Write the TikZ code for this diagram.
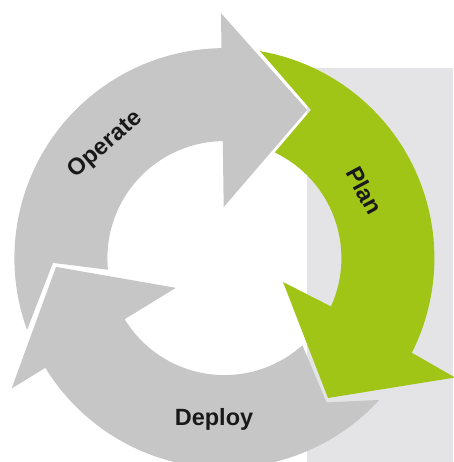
\documentclass[tikz,border=0pt]{standalone}
\usepackage{fontspec}
\setmainfont{Liberation Sans}
\usetikzlibrary{calc}
\definecolor{cyclegray}{HTML}{C6C6C6}
\definecolor{cyclegreen}{HTML}{A1C517}
\definecolor{panelgray}{HTML}{E4E4E6}
\begin{document}
\begin{tikzpicture}[x=1pt,y=1pt,
  arrowgray/.style={fill=cyclegray},
  arrowgreen/.style={fill=cyclegreen},
  lbl/.style={font=\bfseries\fontsize{23.5}{26}\selectfont, text=black!90, inner sep=0pt}]
\useasboundingbox (0,0) rectangle (453,462);
% light panel behind the right part of the cycle
\fill[panelgray] (307,0) rectangle (453,394);
\coordinate (C) at (224.4,203.9);
% Operate: from the left side over the top
\fill[arrowgray] ($(C)+(200:210)$) arc[start angle=200,end angle=90.8,radius=210pt]
  -- ($(C)+(90.8:245)$) -- ($(C)+(60.8:169.6)$) -- ($(C)+(90.8:51)$)
  -- ($(C)+(90.8:117)$) arc[start angle=90.8,end angle=185.7,radius=117pt]
  -- ($(C)+(181.6:171.5)$) -- cycle;
% Plan: down the right side
\fill[arrowgreen] ($(C)+(80.2:210)$) arc[start angle=80.2,end angle=-26.8,radius=210pt]
  -- (455,84.5) -- (328,64) -- (283,180)
  -- ($(C)+(-24.4:117)$) arc[start angle=-24.4,end angle=64.5,radius=117pt]
  -- ($(C)+(59.7:171.6)$) -- cycle;
% Deploy: along the bottom, back up to the left
\fill[arrowgray] ($(C)+(-42.5:210)$) arc[start angle=-42.5,end angle=-148.5,radius=210pt]
  -- ($(C)+(211.5:249.6)$) -- ($(C)+(183:168.6)$) -- ($(C)+(211.5:56.9)$)
  -- ($(C)+(211.5:117)$) arc[start angle=211.5,end angle=311.8,radius=117pt]
  -- ($(C)+(-54.7:176.8)$) -- cycle;
% labels
\node[lbl, rotate=41] (operate) at (105.7,317) {Operate};
\node[lbl, rotate=-62] (plan) at (364.5,271.5) {Plan};
\node[lbl, anchor=base] (deploy) at (214,36.3) {Deploy};
\end{tikzpicture}
\end{document}
